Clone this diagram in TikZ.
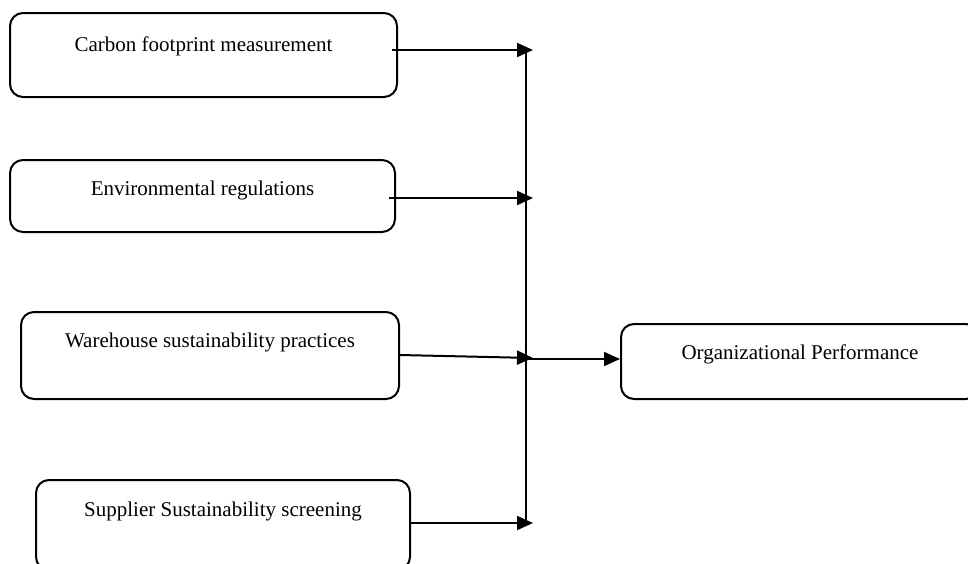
\documentclass[tikz,border=0pt]{standalone}
\usepackage{fontspec}
\setmainfont{Liberation Serif}
\usetikzlibrary{arrows.meta}
\begin{document}
\begin{tikzpicture}[x=1pt,y=-1pt,
  box/.style={draw, line width=2pt, rounded corners=13pt, inner sep=0pt},
  lbl/.style={font=\fontsize{21}{25}\selectfont, inner sep=0pt, anchor=base},
  conn/.style={line width=2pt},
  arr/.style={conn, -{Triangle[length=16pt,width=14pt]}}]
\useasboundingbox (0,0) rectangle (968,563);
\clip (0,0) rectangle (968,563);
% boxes
\node[box, minimum width=387pt, minimum height=84pt] (b1) at (203.5,55) {};
\node[box, minimum width=385pt, minimum height=72pt] (b2) at (202.5,196) {};
\node[box, minimum width=378pt, minimum height=87pt] (b3) at (210,355.5) {};
\node[box, minimum width=374pt, minimum height=90pt] (b4) at (223,525) {};
\node[box, minimum width=358pt, minimum height=75pt] (op) at (800,361.5) {};
% texts
\node[lbl] (t1) at (203.5,51) {Carbon footprint measurement};
\node[lbl] (t2) at (202.5,195) {Environmental regulations};
\node[lbl] (t3) at (210,347) {Warehouse sustainability practices};
\node[lbl] (t4) at (223,516) {Supplier Sustainability screening};
\node[lbl] (t5) at (800,359) {Organizational Performance};
% junction points
\coordinate (j1) at (533,50);
\coordinate (j2) at (533,198);
\coordinate (j3) at (533,358);
\coordinate (j4) at (533,523);
\coordinate (vtop) at (526,53);
\coordinate (vbot) at (526,523);
\coordinate (vmid) at (526,359);
% connectors
\draw[conn] (vtop) -- (vbot);
\draw[arr] ([xshift=-6pt]b1.east |- j1) -- (j1);
\draw[arr] ([xshift=-7pt]b2.east |- j2) -- (j2);
\draw[arr] ([yshift=0.5pt]b3.east) -- (j3);
\draw[arr] (b4.east |- j4) -- (j4);
\draw[arr] (vmid) -- (vmid -| op.west);
\end{tikzpicture}
\end{document}
